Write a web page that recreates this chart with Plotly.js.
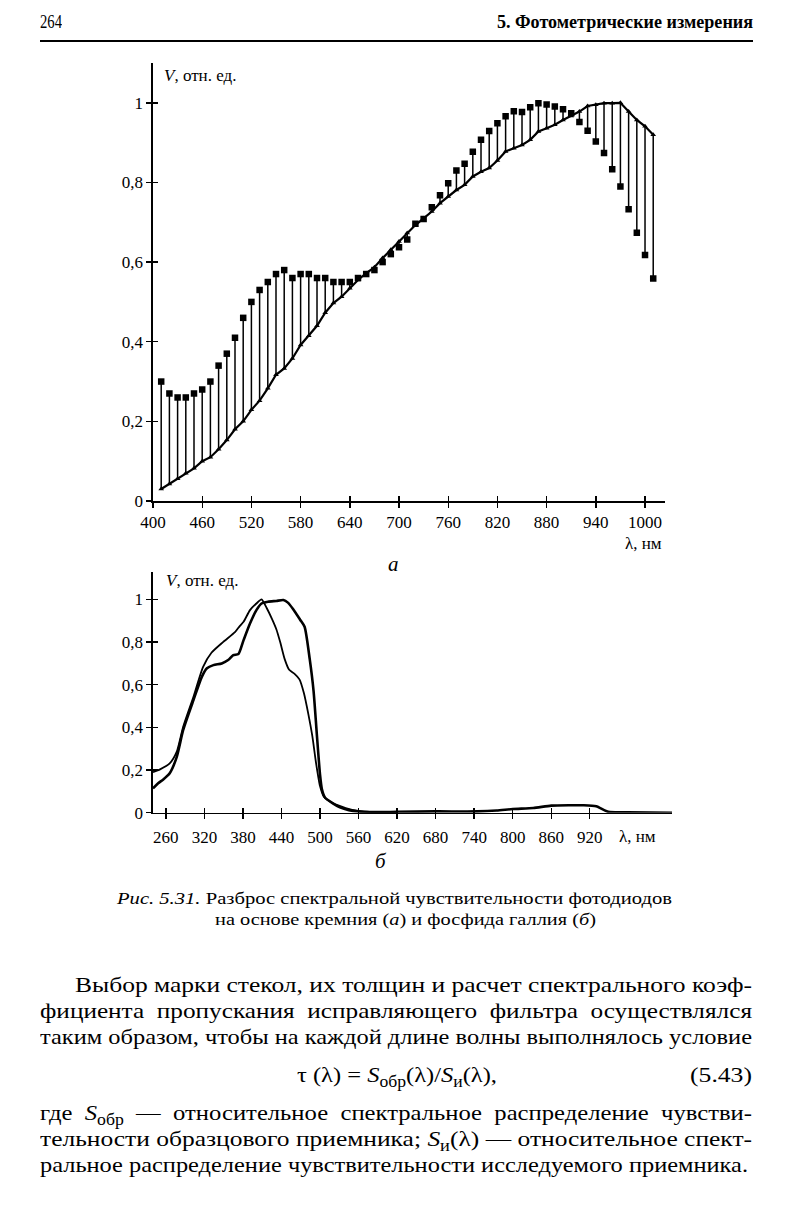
<!DOCTYPE html>
<html lang="ru">
<head>
<meta charset="utf-8">
<script src="https://cdn.plot.ly/plotly-3.0.1.min.js"></script>
<style>
  html, body { margin: 0; padding: 0; background: #fff; }
  #page { position: relative; width: 794px; height: 1212px; overflow: hidden; background: #fff;
          font-family: "Liberation Serif", "Times New Roman", serif; color: #000; }
  #chart { position: absolute; left: 0; top: 0; width: 794px; height: 1212px; }
  .ln { position: absolute; line-height: 1; white-space: nowrap; }
  .ln > span { display: inline-block; white-space: nowrap; transform-origin: 0 50%; }
  .ln sub { font-size: 0.72em; line-height: 0; vertical-align: -0.3em; }
  .rule { position: absolute; left: 40px; top: 40px; width: 713px; height: 2px; background: #000; }
</style>
</head>
<body>
<div id="page">
  <div id="chart"></div>

  <div class="ln" data-x="40" data-y="23" data-w="22" data-f="18"><span>264</span></div>
  <div class="ln" data-x="497" data-y="23" data-w="256" data-f="18" style="font-weight:bold"><span>5. Фотометрические измерения</span></div>
  <div class="rule"></div>

  <div class="ln" data-x="117" data-y="899" data-w="555" data-f="17"><span><i>Рис. 5.31.</i> Разброс спектральной чувствительности фотодиодов</span></div>
  <div class="ln" data-x="215" data-y="920" data-w="381" data-f="17"><span>на основе кремния (<i>а</i>) и фосфида галлия (<i>б</i>)</span></div>

  <div class="ln" data-x="75" data-y="986" data-w="677" data-f="22"><span>Выбор марки стекол, их толщин и расчет спектрального коэф-</span></div>
  <div class="ln" data-x="40" data-y="1012" data-w="712" data-f="22"><span>фициента&nbsp; пропускания&nbsp; исправляющего&nbsp; фильтра&nbsp; осуществлялся</span></div>
  <div class="ln" data-x="40" data-y="1038" data-w="712" data-f="22"><span>таким образом, чтобы на каждой длине волны выполнялось условие</span></div>
  <div class="ln" data-x="297" data-y="1076" data-w="200" data-f="22"><span>τ (λ) = <i>S</i><sub>обр</sub>(λ)/<i>S</i><sub>и</sub>(λ),</span></div>
  <div class="ln" data-x="690" data-y="1076" data-w="62" data-f="22"><span>(5.43)</span></div>
  <div class="ln" data-x="40" data-y="1114" data-w="712" data-f="22"><span>где&nbsp; <i>S</i><sub>обр</sub>&nbsp; —&nbsp; относительное&nbsp; спектральное&nbsp; распределение&nbsp; чувстви-</span></div>
  <div class="ln" data-x="40" data-y="1140" data-w="712" data-f="22"><span>тельности образцового приемника; <i>S</i><sub>и</sub>(λ) — относительное спект-</span></div>
  <div class="ln" data-x="40" data-y="1166" data-w="708" data-f="22"><span>ральное распределение чувствительности исследуемого приемника.</span></div>
</div>

<script>
// ---------- Data: (а) silicon photodiodes ----------
const siWavelength = [410,420,430,440,450,460,470,480,490,500,510,520,530,540,550,560,570,580,590,600,
  610,620,630,640,650,660,670,680,690,700,710,720,730,740,750,760,770,780,790,800,
  810,820,830,840,850,860,870,880,890,900,910,920,930,940,950,960,970,980,990,1000,1010];
const siSample = [0.30,0.27,0.26,0.26,0.27,0.28,0.30,0.34,0.37,0.41,0.46,0.50,0.53,0.55,0.57,0.58,0.56,0.57,0.57,0.56,
  0.56,0.55,0.55,0.55,0.56,0.57,0.58,0.60,0.62,0.637,0.657,0.696,0.708,0.738,0.768,0.798,0.83,0.847,0.877,0.907,
  0.929,0.949,0.966,0.979,0.977,0.989,0.999,0.996,0.991,0.984,0.974,0.952,0.93,0.903,0.874,0.833,0.79,0.733,0.674,0.618,0.559];
const siReference = [0.03,0.043,0.056,0.07,0.082,0.10,0.11,0.13,0.153,0.18,0.20,0.229,0.252,0.283,0.317,0.333,0.358,0.392,0.415,0.44,
  0.473,0.497,0.513,0.534,0.555,0.572,0.587,0.61,0.631,0.652,0.673,0.693,0.71,0.727,0.748,0.765,0.781,0.794,0.815,0.827,
  0.836,0.855,0.878,0.886,0.894,0.907,0.928,0.936,0.945,0.957,0.967,0.978,0.992,0.995,0.999,0.999,1.0,0.978,0.957,0.941,0.92];
const siXTicks = [400,460,520,580,640,700,760,820,880,940,1000];
const siYTicks = [0,0.2,0.4,0.6,0.8,1];
const siYTickText = ["0","0,2","0,4","0,6","0,8","1"];

// ---------- Data: (б) gallium phosphide photodiodes ----------
const gapAWavelength = [240,248,256,266,277,287,303,316,324,334,347,357,365,373,381,391,401,409,419,432,443,450,458,469,476,484,490,495,500,503,508,520,531,545,560,580,620,680,745,775,800,832,860,889,910,930,949,980,1048];
const gapAValue = [0.114,0.138,0.156,0.185,0.262,0.388,0.528,0.637,0.677,0.692,0.70,0.716,0.739,0.744,0.809,0.887,0.95,0.981,0.989,0.993,0.997,0.985,0.955,0.905,0.872,0.72,0.57,0.37,0.18,0.11,0.07,0.044,0.025,0.012,0.006,0.003,0.004,0.006,0.006,0.01,0.017,0.022,0.033,0.035,0.035,0.03,0.004,0.002,0.0];
const gapBWavelength = [240,251,266,277,287,303,318,331,349,368,375,381,391,401,409,417,425,432,438,445,452,460,468,475,482,488,494,500,506,520,540,560,580,620];
const gapBValue = [0.19,0.203,0.231,0.286,0.403,0.544,0.684,0.75,0.80,0.848,0.875,0.895,0.95,0.981,1.0,0.96,0.91,0.86,0.80,0.72,0.67,0.652,0.625,0.56,0.46,0.36,0.23,0.125,0.075,0.045,0.022,0.008,0.003,0.002];
const gapXTicks = [260,320,380,440,500,560,620,680,740,800,860,920];
const gapYTicks = [0,0.2,0.4,0.6,0.8,1];
const gapYTickText = ["0","0,2","0,4","0,6","0,8","1"];

// ---------- Build figure ----------
const W = 794, H = 1212;
const px = v => v / W;
const py = v => 1 - v / H;
const FONT = "'Liberation Serif', 'Times New Roman', serif";

const stemX = [], stemY = [];
siWavelength.forEach((x, i) => { stemX.push(x, x, null); stemY.push(siSample[i], siReference[i], null); });

const traces = [
  { x: stemX, y: stemY, xaxis: 'x', yaxis: 'y', mode: 'lines', line: { color: '#000', width: 1.5 }, hoverinfo: 'skip' },
  { x: siWavelength, y: siReference, xaxis: 'x', yaxis: 'y', mode: 'lines+markers',
    line: { color: '#000', width: 2.2 }, marker: { symbol: 'triangle-up', size: 5, color: '#000' } },
  { x: siWavelength, y: siSample, xaxis: 'x', yaxis: 'y', mode: 'markers',
    marker: { symbol: 'square', size: 6.5, color: '#000' } },
  { x: gapAWavelength, y: gapAValue, xaxis: 'x2', yaxis: 'y2', mode: 'lines',
    line: { color: '#000', width: 2.6, shape: 'spline', smoothing: 0.6 } },
  { x: gapBWavelength, y: gapBValue, xaxis: 'x2', yaxis: 'y2', mode: 'lines',
    line: { color: '#000', width: 1.8, shape: 'spline', smoothing: 0.6 } },
  // empty traces that activate the overlay axes used for the inner halves of the crossing ticks
  { x: [], y: [], xaxis: 'x3', yaxis: 'y', mode: 'lines' },
  { x: [], y: [], xaxis: 'x', yaxis: 'y3', mode: 'lines' },
  { x: [], y: [], xaxis: 'x4', yaxis: 'y2', mode: 'lines' },
  { x: [], y: [], xaxis: 'x2', yaxis: 'y4', mode: 'lines' }
];

const baseAxis = { showgrid: false, zeroline: false, showline: true, linecolor: '#000', linewidth: 1.6,
  ticks: 'outside', ticklen: 5, tickwidth: 1.4, tickcolor: '#000', tickmode: 'array',
  tickfont: { family: FONT, size: 17, color: '#000' }, fixedrange: true };
const innerAxis = { showgrid: false, zeroline: false, showline: false, ticks: 'inside', ticklen: 5,
  tickwidth: 1.4, tickcolor: '#000', tickmode: 'array', showticklabels: false, fixedrange: true };

const layout = {
  width: W, height: H, margin: { l: 0, r: 0, t: 0, b: 0 },
  paper_bgcolor: 'rgba(0,0,0,0)', plot_bgcolor: 'rgba(0,0,0,0)', showlegend: false,
  font: { family: FONT, size: 17, color: '#000' },
  xaxis: Object.assign({}, baseAxis, { domain: [px(153), px(664.7)], range: [400, 1024], anchor: 'y', tickvals: siXTicks }),
  yaxis: Object.assign({}, baseAxis, { domain: [py(501), py(63)], range: [0, 1.1], anchor: 'x', tickvals: siYTicks, ticktext: siYTickText }),
  xaxis3: Object.assign({}, innerAxis, { overlaying: 'x', anchor: 'y', side: 'bottom', range: [400, 1024], tickvals: siXTicks }),
  yaxis3: Object.assign({}, innerAxis, { overlaying: 'y', anchor: 'x', side: 'left', range: [0, 1.1], tickvals: siYTicks }),
  xaxis2: Object.assign({}, baseAxis, { domain: [px(153), px(672)], range: [240, 1048], anchor: 'y2', tickvals: gapXTicks, ticklabelstandoff: 3 }),
  yaxis2: Object.assign({}, baseAxis, { domain: [py(812.7), py(571.7)], range: [0, 1.13], anchor: 'x2', tickvals: gapYTicks, ticktext: gapYTickText }),
  xaxis4: Object.assign({}, innerAxis, { overlaying: 'x2', anchor: 'y2', side: 'bottom', range: [240, 1048], tickvals: gapXTicks }),
  yaxis4: Object.assign({}, innerAxis, { overlaying: 'y2', anchor: 'x2', side: 'left', range: [0, 1.13], tickvals: gapYTicks }),
  annotations: [
    { text: '<i>V</i>, отн. ед.', xref: 'paper', yref: 'paper', x: px(162), y: py(75), xanchor: 'left', yanchor: 'middle', showarrow: false, font: { size: 17 } },
    { text: 'λ, нм', xref: 'paper', yref: 'paper', x: px(664), y: py(543), xanchor: 'right', yanchor: 'middle', showarrow: false, font: { size: 17 } },
    { text: '<i>а</i>', xref: 'paper', yref: 'paper', x: px(393), y: py(564), xanchor: 'center', yanchor: 'middle', showarrow: false, font: { size: 21 } },
    { text: '<i>V</i>, отн. ед.', xref: 'paper', yref: 'paper', x: px(164), y: py(580), xanchor: 'left', yanchor: 'middle', showarrow: false, font: { size: 17 } },
    { text: 'λ, нм', xref: 'paper', yref: 'paper', x: px(617), y: py(836), xanchor: 'left', yanchor: 'middle', showarrow: false, font: { size: 17 } },
    { text: '<i>б</i>', xref: 'paper', yref: 'paper', x: px(381), y: py(861), xanchor: 'center', yanchor: 'middle', showarrow: false, font: { size: 21 } }
  ]
};

Plotly.newPlot('chart', traces, layout, { staticPlot: true, displayModeBar: false });

// ---------- Place and fit text lines (horizontal scale to the measured line widths) ----------
function fitLines() {
  document.querySelectorAll('.ln').forEach(el => {
    const f = +el.dataset.f;
    el.style.fontSize = f + 'px';
    el.style.left = el.dataset.x + 'px';
    el.style.top = (+el.dataset.y - 0.54 * f) + 'px';
    const span = el.firstElementChild;
    span.style.transform = '';
    const target = +el.dataset.w;
    const w = span.getBoundingClientRect().width;
    if (w > 0) span.style.transform = 'scaleX(' + (target / w) + ')';
  });
}
fitLines();
if (document.fonts && document.fonts.ready) document.fonts.ready.then(fitLines);
</script>
</body>
</html>
